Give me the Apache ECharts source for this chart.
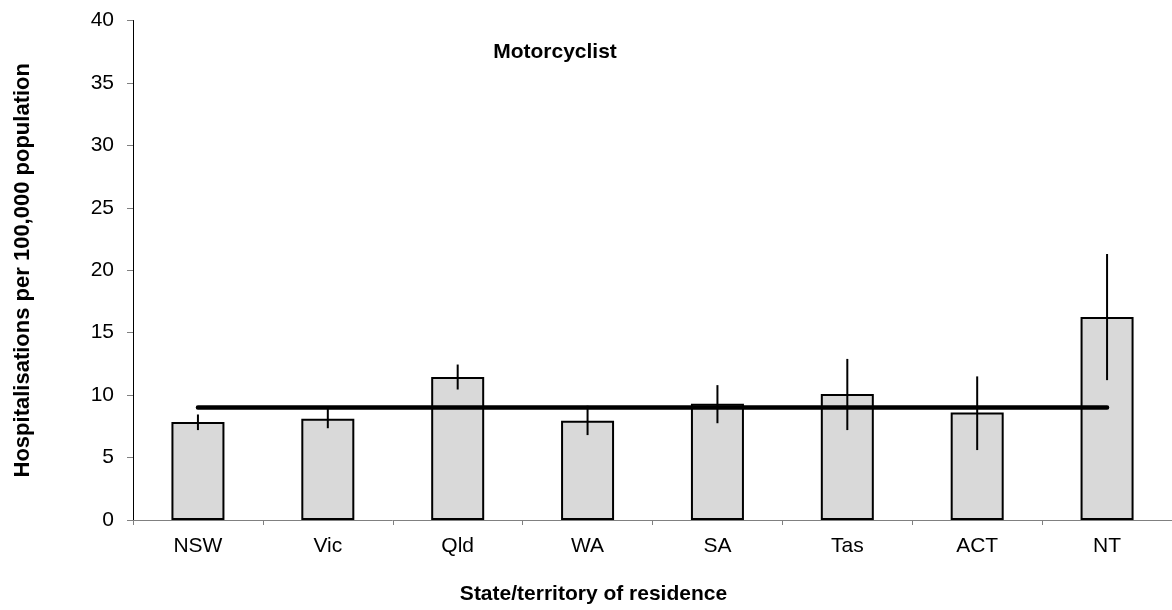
<!DOCTYPE html>
<html><head><meta charset="utf-8">
<script src="https://cdn.jsdelivr.net/npm/echarts@6/dist/echarts.min.js"></script>
<style>html,body{margin:0;padding:0;background:#fff}#c{width:1172px;height:610px}</style>
</head><body><div id="c"></div>
<script>
var categories = ['NSW', 'Vic', 'Qld', 'WA', 'SA', 'Tas', 'ACT', 'NT'];
var rates = [7.85, 8.1, 11.45, 7.95, 9.3, 10.1, 8.6, 16.25];
var ciLow = [7.2, 7.35, 10.45, 6.8, 7.75, 7.2, 5.6, 11.2];
var ciHigh = [8.45, 8.95, 12.45, 9.15, 10.8, 12.9, 11.5, 21.3];
var australiaRate = [9.0, 9.0, 9.0, 9.0, 9.0, 9.0, 9.0, 9.0];
var yTicks = [0, 5, 10, 15, 20, 25, 30, 35, 40];

var FONT = "'Liberation Sans', Arial, sans-serif";
var chart = echarts.init(document.getElementById('c'));
var errData = categories.map(function (c, i) { return [i, ciLow[i], ciHigh[i]]; });

chart.setOption({
  animation: false,
  grid: { left: 133, right: 0, top: 20.5, bottom: 87, containLabel: false },
  title: {
    text: 'Motorcyclist', left: 550, top: 37, textAlign: 'center',
    textStyle: { fontFamily: FONT, fontSize: 21, fontWeight: 'bold', color: '#000' }
  },
  xAxis: {
    type: 'category', data: categories,
    name: 'State/territory of residence', nameLocation: 'middle', nameGap: 64,
    nameTextStyle: { fontFamily: FONT, fontSize: 21, fontWeight: 'bold', color: '#000', padding: [0, 118, 0, 0] },
    axisLine: { lineStyle: { color: '#808080', width: 1 } },
    axisTick: { show: true, alignWithLabel: false, length: 5, lineStyle: { color: '#808080' } },
    axisLabel: { fontFamily: FONT, fontSize: 21, color: '#000', margin: 16 }
  },
  yAxis: {
    type: 'value', min: yTicks[0], max: yTicks[yTicks.length - 1], interval: 5,
    name: 'Hospitalisations per 100,000 population', nameLocation: 'middle', nameGap: 99,
    nameTextStyle: { fontFamily: FONT, fontSize: 22, fontWeight: 'bold', color: '#000' },
    axisLine: { show: true, lineStyle: { color: '#000', width: 1 } },
    axisTick: { show: true, length: 6, lineStyle: { color: '#808080' } },
    axisLabel: { fontFamily: FONT, fontSize: 21, color: '#000', margin: 19 },
    splitLine: { show: false }
  },
  series: [
    {
      type: 'bar', data: rates, barWidth: 53,
      itemStyle: { color: '#d9d9d9', borderColor: '#000', borderWidth: 2 },
      z: 2
    },
    {
      type: 'line', data: australiaRate, symbol: 'none',
      lineStyle: { color: '#000', width: 4.5, cap: 'round' }, z: 3
    },
    {
      type: 'custom', data: errData, z: 4,
      renderItem: function (params, api) {
        var p1 = api.coord([api.value(0), api.value(1)]);
        var p2 = api.coord([api.value(0), api.value(2)]);
        return { type: 'line', shape: { x1: p1[0], y1: p1[1], x2: p2[0], y2: p2[1] },
          style: { stroke: '#000', lineWidth: 2 } };
      }
    }
  ]
});
</script></body></html>
